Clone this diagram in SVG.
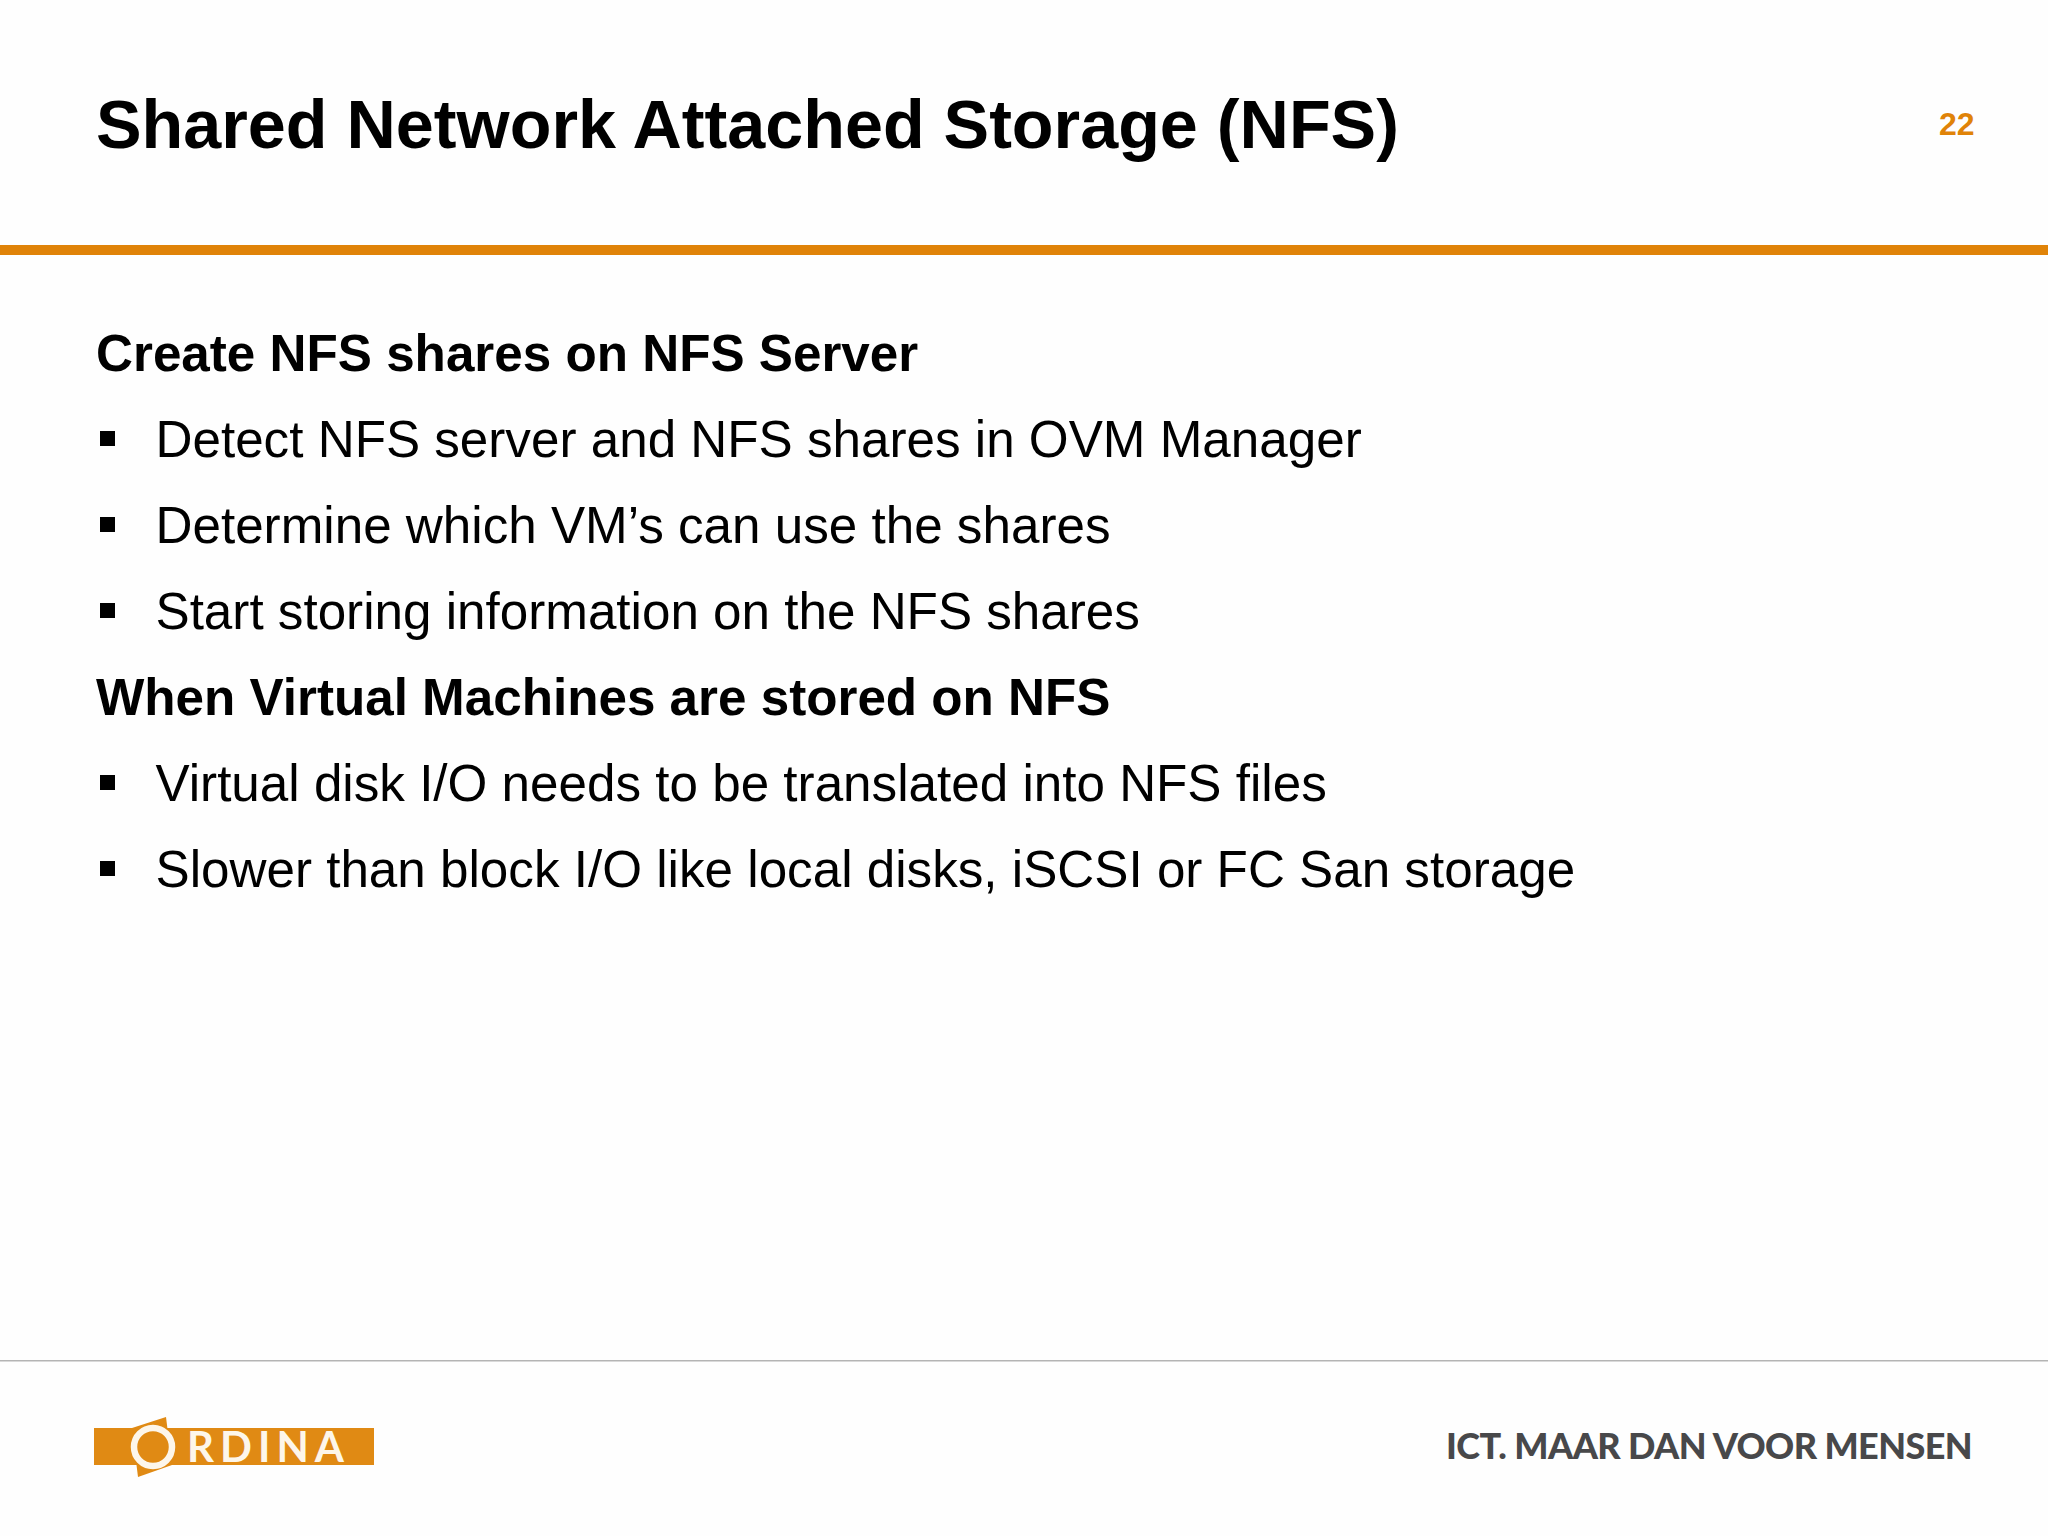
<svg xmlns="http://www.w3.org/2000/svg" width="2048" height="1536" viewBox="0 0 2048 1536">
<style>
text{font-family:"Liberation Sans",Arial,sans-serif;fill:#000}
.b{font-size:51.2px}
.h{font-size:51.2px;font-weight:bold}
.l{font-family:Lato,"Liberation Sans",sans-serif}
</style>
<rect width="2048" height="1536" fill="#fefefe"/>
<g id="header">
<text x="96" y="148" font-size="68.3" font-weight="bold" fill="#000">Shared Network Attached Storage (NFS)</text>
<text x="1939" y="135" font-size="32" font-weight="bold" style="fill:#e08308">22</text>
<rect x="0" y="245" width="2048" height="10" fill="#e08308"/>
</g>
<g id="body">
<text class="h" x="96" y="370.5">Create NFS shares on NFS Server</text>
<text class="b" x="155.5" y="456.5">Detect NFS server and NFS shares in OVM Manager</text>
<text class="b" x="155.5" y="542.5">Determine which VM’s can use the shares</text>
<text class="b" x="155.5" y="628.5">Start storing information on the NFS shares</text>
<text class="h" x="96" y="714.5">When Virtual Machines are stored on NFS</text>
<text class="b" x="155.5" y="800.5">Virtual disk I/O needs to be translated into NFS files</text>
<text class="b" x="155.5" y="886.5">Slower than block I/O like local disks, iSCSI or FC San storage</text>
<rect x="100" y="431" width="15" height="15"/>
<rect x="100" y="517" width="15" height="15"/>
<rect x="100" y="603" width="15" height="15"/>
<rect x="100" y="775" width="15" height="15"/>
<rect x="100" y="861" width="15" height="15"/>
</g>
<g id="footer">
<rect x="0" y="1360" width="2048" height="1.5" fill="#b4b4b4"/>
<g id="logo">
<rect x="94" y="1428" width="280" height="37" fill="#e08a14"/>
<polygon points="166,1417 172,1465 138,1477 132,1428" fill="#e08a14"/>
<circle cx="153" cy="1447" r="19" fill="none" stroke="#fdf6ea" stroke-width="6.5"/>
<text class="l" x="187" y="1462" font-size="42" font-weight="bold" letter-spacing="6" style="fill:#fdf6ea">RDINA</text>
</g>
<text class="l" x="1446" y="1459" font-size="36" font-weight="900" letter-spacing="-0.58" style="fill:#48484a">ICT. MAAR DAN VOOR MENSEN</text>
</g>
</svg>
